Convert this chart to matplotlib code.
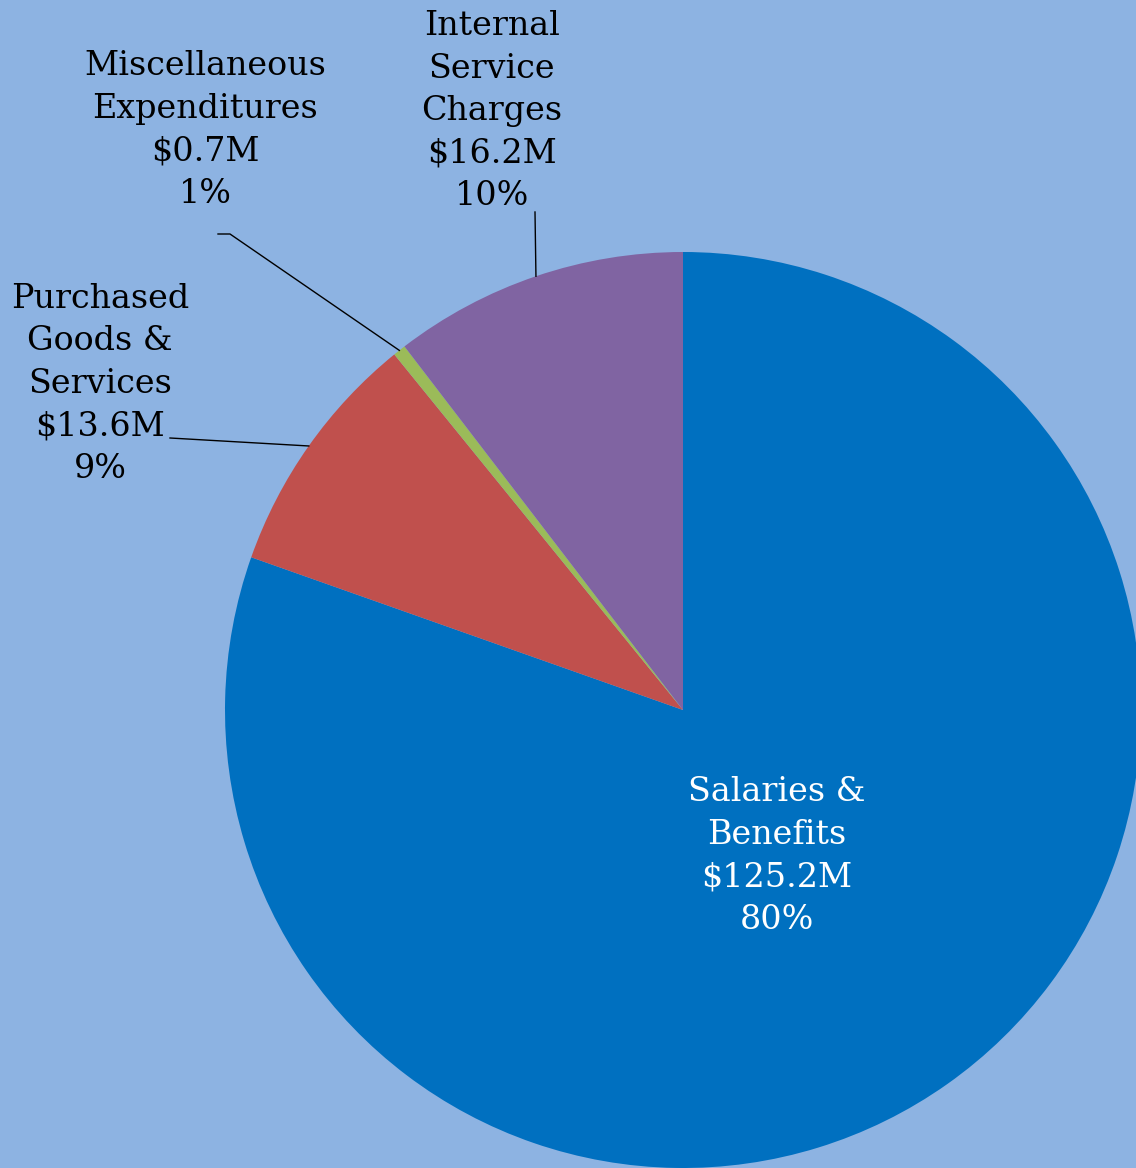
import matplotlib.pyplot as plt
import numpy as np

categories = ["Salaries &\nBenefits", "Purchased\nGoods &\nServices",
              "Miscellaneous\nExpenditures", "Internal\nService\nCharges"]
amounts = [125.2, 13.6, 0.7, 16.2]
amount_labels = ["$125.2M", "$13.6M", "$0.7M", "$16.2M"]
pct_labels = ["80%", "9%", "1%", "10%"]
colors = ["#0070C0", "#C0504D", "#9BBB59", "#8064A2"]

BG = "#8DB3E2"
W, H = 1136, 1168
CX, CY, R = 683, H - 710, 458

# label block centres and leader-line elbows (pixel coords, y up)
label_pos = [(777, H - 856), (100, H - 384), (205, H - 130), (492, H - 111)]
leader_start = [None, [(170, H - 438)], [(218, H - 234), (230, H - 234)],
                [(535, H - 212)]]

plt.rcParams["font.family"] = ["DejaVu Serif"]

fig = plt.figure(figsize=(W / 100, H / 100), dpi=100)
fig.patch.set_facecolor(BG)
ax = fig.add_axes([0, 0, 1, 1])
ax.set_facecolor(BG)

wedges, _ = ax.pie(amounts, colors=colors, startangle=90, counterclock=False,
                   center=(CX, CY), radius=R, frame=True,
                   wedgeprops=dict(linewidth=0))
ax.set_xlim(0, W)
ax.set_ylim(0, H)
ax.axis("off")

for i, w in enumerate(wedges):
    text = f"{categories[i]}\n{amount_labels[i]}\n{pct_labels[i]}"
    x, y = label_pos[i]
    ax.text(x, y, text, ha="center", va="center", multialignment="center",
            fontsize=24, linespacing=1.42,
            color="white" if i == 0 else "black")
    if leader_start[i]:
        mid = np.deg2rad((w.theta1 + w.theta2) / 2)
        end = (CX + R * np.cos(mid), CY + R * np.sin(mid))
        pts = leader_start[i] + [end]
        ax.plot([p[0] for p in pts], [p[1] for p in pts], color="black",
                linewidth=1)

fig.savefig("out.png", dpi=100, facecolor=BG)
